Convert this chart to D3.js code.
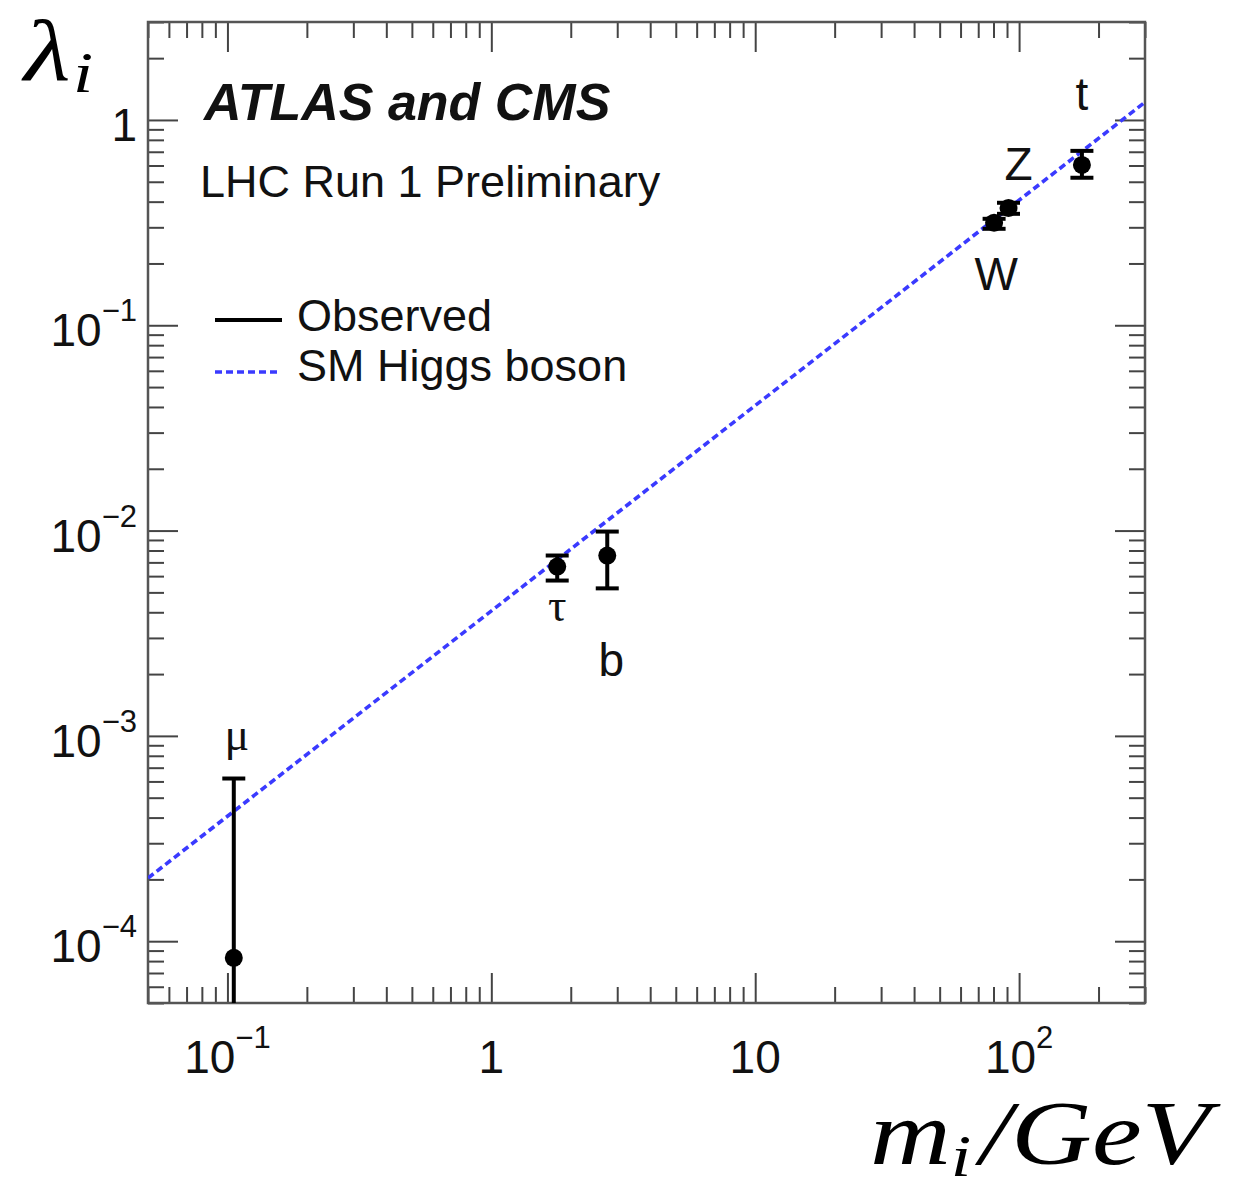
<!DOCTYPE html>
<html>
<head>
<meta charset="utf-8">
<script src="https://cdn.jsdelivr.net/npm/d3@7"></script>
<style>
  html, body { margin: 0; padding: 0; background: #fff; }
  svg { display: block; }
</style>
</head>
<body>
<svg id="chart" width="1255" height="1189"></svg>
<script>
// Coupling strengths λ_i versus particle mass, LHC Run 1 combination
const particles   = ["μ", "τ", "b", "W", "Z", "t"];
const masses      = [0.1057, 1.777, 2.75, 80.4, 91.19, 173.0];     // GeV
const lambdaObs   = [8.3e-5, 6.68e-3, 7.56e-3, 0.316, 0.373, 0.604];
const lambdaUp    = [6.2e-4, 7.56e-3, 9.89e-3, 0.330, 0.395, 0.707];
const lambdaDown  = [1.0e-5, 5.71e-3, 5.23e-3, 0.295, 0.349, 0.523];

// SM Higgs boson expectation, end points of the straight line on log–log axes
const smMass   = [0.05, 300];
const smLambda = [2.03e-4, 1.22];

// Axis labels: [mantissa, exponent]
const xTickValues = [0.1, 1, 10, 100];
const xTickLabels = [["10", "−1"], ["1", ""], ["10", ""], ["10", "2"]];
const yTickValues = [1e-4, 1e-3, 1e-2, 1e-1, 1];
const yTickLabels = [["10", "−4"], ["10", "−3"], ["10", "−2"], ["10", "−1"], ["1", ""]];

const sans  = "'Liberation Sans', Arial, Helvetica, sans-serif";
const serif = "'Liberation Serif', 'Times New Roman', serif";

const svg = d3.select("#chart");

const plotL = 148, plotR = 1145, plotT = 22, plotB = 1003;
const x = d3.scaleLog().domain([0.05, 300]).range([plotL, plotR]);
const y = d3.scaleLog().domain([5e-5, 3]).range([plotB, plotT]);

const isPow10 = v => Math.abs(Math.log10(v) - Math.round(Math.log10(v))) < 1e-9;
const xMajor = x.ticks().filter(isPow10), xMinor = x.ticks().filter(v => !isPow10(v));
const yMajor = y.ticks().filter(isPow10), yMinor = y.ticks().filter(v => !isPow10(v));

// Inward ticks on all four sides
const tickColor = "#444";
function drawAxis(axisGen, tx, ty) {
  const g = svg.append("g").attr("transform", `translate(${tx},${ty})`).call(axisGen);
  g.select(".domain").remove();
  g.selectAll(".tick line").attr("stroke", tickColor).attr("stroke-width", 2);
  g.selectAll(".tick text").remove();
}
const majorLen = 30, minorLen = 16;
drawAxis(d3.axisBottom(x).tickValues(xMajor).tickSize(-majorLen), 0, plotB);
drawAxis(d3.axisBottom(x).tickValues(xMinor).tickSize(-minorLen), 0, plotB);
drawAxis(d3.axisTop(x).tickValues(xMajor).tickSize(-majorLen), 0, plotT);
drawAxis(d3.axisTop(x).tickValues(xMinor).tickSize(-minorLen), 0, plotT);
drawAxis(d3.axisLeft(y).tickValues(yMajor).tickSize(-majorLen), plotL, 0);
drawAxis(d3.axisLeft(y).tickValues(yMinor).tickSize(-minorLen), plotL, 0);
drawAxis(d3.axisRight(y).tickValues(yMajor).tickSize(-majorLen), plotR, 0);
drawAxis(d3.axisRight(y).tickValues(yMinor).tickSize(-minorLen), plotR, 0);

// Frame
svg.append("rect")
  .attr("x", plotL).attr("y", plotT)
  .attr("width", plotR - plotL).attr("height", plotB - plotT)
  .attr("fill", "none").attr("stroke", "#555").attr("stroke-width", 2.5);

// Tick labels with superscript exponents
function powerLabel(sel, lab) {
  sel.append("tspan").text(lab[0]);
  if (lab[1]) sel.append("tspan").attr("font-size", 31).attr("dy", -25).text(lab[1]);
}
svg.append("g").selectAll("text").data(xTickValues).join("text")
  .attr("x", d => x(d)).attr("y", plotB + 70)
  .attr("text-anchor", "middle")
  .attr("font-family", sans).attr("font-size", 46).attr("fill", "#111")
  .each(function (d, i) { powerLabel(d3.select(this), xTickLabels[i]); });

svg.append("g").selectAll("text").data(yTickValues).join("text")
  .attr("x", plotL - 11).attr("y", d => y(d) + 21)
  .attr("text-anchor", "end")
  .attr("font-family", sans).attr("font-size", 46).attr("fill", "#111")
  .each(function (d, i) { powerLabel(d3.select(this), yTickLabels[i]); });

// Plot area clip
svg.append("clipPath").attr("id", "plotArea")
  .append("rect").attr("x", plotL).attr("y", plotT)
  .attr("width", plotR - plotL).attr("height", plotB - plotT);
const plot = svg.append("g").attr("clip-path", "url(#plotArea)");

// SM expectation
const smColor = "#3a3aff";
plot.append("path")
  .datum(smMass.map((m, i) => [m, smLambda[i]]))
  .attr("d", d3.line().x(d => x(d[0])).y(d => y(d[1])))
  .attr("fill", "none").attr("stroke", smColor)
  .attr("stroke-width", 3.6).attr("stroke-dasharray", "7,4");

// Observed couplings with error bars
const obs = particles.map((p, i) => ({
  p, m: masses[i], v: lambdaObs[i], hi: lambdaUp[i], lo: lambdaDown[i]
}));
const capW = 11.5;
const bars = plot.append("g").attr("stroke", "#000").attr("stroke-width", 4);
bars.selectAll("line.err").data(obs).join("line").attr("class", "err")
  .attr("x1", d => x(d.m)).attr("x2", d => x(d.m))
  .attr("y1", d => y(d.hi)).attr("y2", d => y(d.lo));
bars.selectAll("line.capHi").data(obs).join("line").attr("class", "capHi")
  .attr("x1", d => x(d.m) - capW).attr("x2", d => x(d.m) + capW)
  .attr("y1", d => y(d.hi)).attr("y2", d => y(d.hi));
bars.selectAll("line.capLo").data(obs).join("line").attr("class", "capLo")
  .attr("x1", d => x(d.m) - capW).attr("x2", d => x(d.m) + capW)
  .attr("y1", d => y(d.lo)).attr("y2", d => y(d.lo));
plot.append("g").selectAll("circle").data(obs).join("circle")
  .attr("cx", d => x(d.m)).attr("cy", d => y(d.v)).attr("r", 9).attr("fill", "#000");

// Particle labels, placed next to the end of each error bar
const labelPlacement = {
  "μ": { from: "hi", dx: 3,  dy: -29, font: serif },
  "τ": { from: "lo", dx: 0,  dy: 40,  font: serif },
  "b": { from: "lo", dx: 4,  dy: 88,  font: sans },
  "W": { from: "lo", dx: 2,  dy: 61,  font: sans },
  "Z": { from: "hi", dx: 10, dy: -23, font: sans },
  "t": { from: "hi", dx: 0,  dy: -41, font: sans }
};
svg.append("g").selectAll("text").data(obs).join("text")
  .attr("x", d => x(d.m) + labelPlacement[d.p].dx)
  .attr("y", d => y(d[labelPlacement[d.p].from]) + labelPlacement[d.p].dy)
  .attr("text-anchor", "middle")
  .attr("font-family", d => labelPlacement[d.p].font)
  .attr("font-size", 46).attr("fill", "#111")
  .text(d => d.p);

// Experiment tags
svg.append("text").attr("x", 204).attr("y", 120)
  .attr("font-family", sans).attr("font-size", 52)
  .attr("font-weight", "bold").attr("font-style", "italic").attr("fill", "#111")
  .text("ATLAS and CMS");
svg.append("text").attr("x", 200).attr("y", 197)
  .attr("font-family", sans).attr("font-size", 45).attr("fill", "#111")
  .text("LHC Run 1 Preliminary");

// Legend
const legend = svg.append("g");
legend.append("line").attr("x1", 215).attr("x2", 282).attr("y1", 320).attr("y2", 320)
  .attr("stroke", "#000").attr("stroke-width", 4);
legend.append("text").attr("x", 297).attr("y", 331)
  .attr("font-family", sans).attr("font-size", 45).attr("fill", "#111").text("Observed");
legend.append("line").attr("x1", 215).attr("x2", 278).attr("y1", 372).attr("y2", 372)
  .attr("stroke", smColor).attr("stroke-width", 3.4).attr("stroke-dasharray", "7,4");
legend.append("text").attr("x", 297).attr("y", 381)
  .attr("font-family", sans).attr("font-size", 45).attr("fill", "#111").text("SM Higgs boson");

// Axis titles in math italic, widened slightly like a typeset formula
const yTitle = svg.append("text")
  .attr("transform", "translate(24,80) scale(1.25,1)")
  .attr("font-family", serif).attr("font-style", "italic").attr("font-size", 86).attr("fill", "#000");
yTitle.append("tspan").text("λ");
yTitle.append("tspan").attr("font-size", 58).attr("dy", 12).attr("dx", 2).text("i");

const xTitle = svg.append("text")
  .attr("transform", "translate(870,1164) scale(1.23,1)")
  .attr("font-family", serif).attr("font-style", "italic").attr("font-size", 91).attr("fill", "#000");
xTitle.append("tspan").text("m");
xTitle.append("tspan").attr("font-size", 60).attr("dy", 12).text("i");
xTitle.append("tspan").attr("dy", -12).attr("dx", 7).text("/GeV");
</script>
</body>
</html>
